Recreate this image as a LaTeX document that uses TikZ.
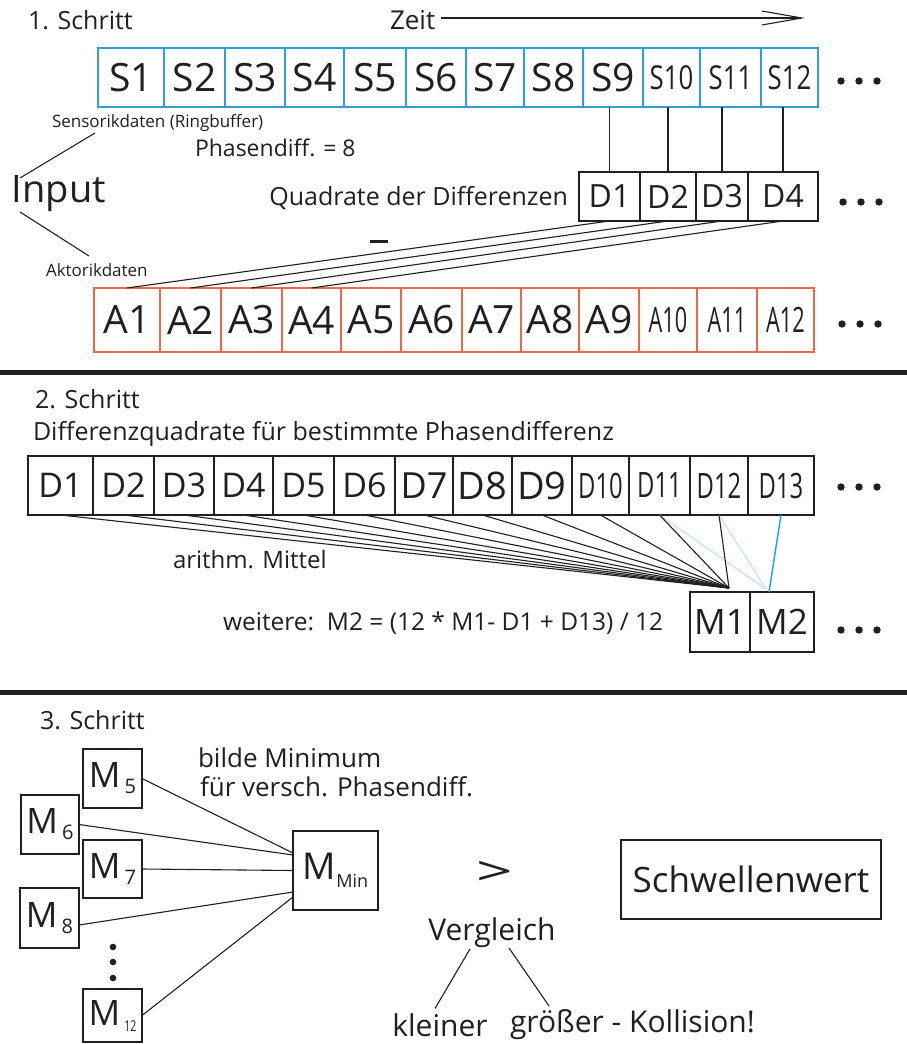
\documentclass[tikz,border=0pt]{standalone}
\usepackage{fontspec}
\setmainfont{Open Sans}
\usetikzlibrary{arrows.meta,calc}
\definecolor{ink}{RGB}{35,31,32}
\definecolor{sblue}{RGB}{45,160,218}
\definecolor{aorange}{RGB}{240,105,65}
\definecolor{lblue}{RGB}{190,228,246}
\definecolor{mblue}{RGB}{20,165,225}
\newcommand\fs[1]{\fontsize{#1}{#1}\selectfont}
\newcommand\cnd[3]{\scalebox{#1}[1]{\fs{#2}#3}}
\newcommand\Msub[2]{\fs{35}M\hspace{4pt}\raisebox{-6pt}{\fs{#2}#1}}
\newcommand\dotrow[2]{\foreach \xx in {0,18,36}{\fill[ink] ({#1+\xx},#2) circle (3.7pt);}}
\begin{document}
\begin{tikzpicture}[x=1pt,y=-1pt,
  every node/.style={text=ink,inner sep=0pt,outer sep=0pt},
  lbl/.style={font={\fs{25}}},
  lin/.style={draw=ink,line width=1.1pt},
  scell/.style={draw=sblue,line width=1.3pt,minimum height=59pt},
  acell/.style={draw=aorange,line width=1.3pt,minimum height=64pt},
  dcell/.style={draw=ink,line width=1.2pt},
  sepline/.style={draw=ink,line width=5pt},
]
\useasboundingbox[fill=white] (0,0) rectangle (907,1044);

% ---------------- Step 1 ----------------
\node[lbl,anchor=west] (t1) at (28,20) {1. Schritt};
\node[anchor=west,font={\fs{26}}] (zeit) at (390,20) {Zeit};
\coordinate (tz) at (805,18);
\draw[lin,-{Straight Barb[length=40pt,width=14pt,line width=1.1pt]}] ([xshift=6pt]zeit.east |- tz) -- (tz);

\foreach \n/\l/\r/\txt in {S1/98/164/{\fs{39}S1},S2/164/225/{\fs{39}S2},S3/225/285/{\fs{39}S3},
  S4/285/344/{\fs{39}S4},S5/344/406/{\fs{39}S5},S6/406/466/{\fs{39}S6},S7/466/524/{\fs{39}S7},
  S8/524/583/{\fs{39}S8},S9/583/643/{\fs{39}S9},S10/643/700/{\cnd{0.78}{33}{S10}},
  S11/700/761/{\cnd{0.78}{33}{S11}},S12/761/818/{\cnd{0.78}{33}{S12}}}
  {\node[scell,minimum width=\r pt-\l pt] (\n) at ({(\l+\r)/2},77.5) {\txt};}
\dotrow{841}{81}

\node[anchor=west,font={\fs{17}}] (sens) at (52,123) {Sensorikdaten (Ringbuffer)};
\node[anchor=west,font={\fs{23}}] (phd) at (195,148) {Phasendiff. = 8};
\node[anchor=west,font={\fs{38}}] (inp) at (12,193) {Input};
\node[anchor=west,font={\fs{17}}] (akt) at (46,270) {Aktorikdaten};
\draw[lin] ([xshift=8pt,yshift=15pt]inp.west) -- ([xshift=43pt,yshift=-10pt]sens.west);
\draw[lin] ([xshift=8pt,yshift=-19pt]inp.west) -- ([xshift=43pt,yshift=14pt]akt.west);

\node[lbl,anchor=east] (qdd) at (568,198) {Quadrate der Differenzen};
\foreach \n/\l/\r/\txt in {D1/579/640/D1,D2/640/696/D2,D3/696/748/D3,D4/748/818/D4}
  {\node[dcell,minimum width=\r pt-\l pt,minimum height=49pt,font={\fs{32}}] (q\n) at ({(\l+\r)/2},196.5) {\txt};}
\dotrow{843}{202}
\foreach \i in {1,2,3,4}{\pgfmathtruncatemacro\s{\i+8}
  \draw[lin] (qD\i.north) -- (qD\i.north |- S\s.south);}

\draw[ink,line width=3pt] (370,241) -- (388,241);

\foreach \n/\l/\r/\txt in {A1/94/160/{\fs{39}A1},A2/160/221/{\fs{39}A2},A3/221/282/{\fs{39}A3},
  A4/282/341/{\fs{39}A4},A5/341/401/{\fs{39}A5},A6/401/462/{\fs{39}A6},A7/462/521/{\fs{39}A7},
  A8/521/579/{\fs{39}A8},A9/579/639/{\fs{39}A9},A10/639/697/{\cnd{0.62}{35}{A10}},
  A11/697/757/{\cnd{0.62}{35}{A11}},A12/757/814/{\cnd{0.62}{35}{A12}}}
  {\node[acell,minimum width=\r pt-\l pt] (\n) at ({(\l+\r)/2},320) {\txt};}
\dotrow{842}{324}
\foreach \i in {1,2,3,4}{\draw[lin] (qD\i.south) -- (A\i.north);}

\coordinate (s1l) at (0,372); \coordinate (s1r) at (907,372);
\draw[sepline] (s1l) -- (s1r);

% ---------------- Step 2 ----------------
\node[lbl,anchor=west] (t2) at (35,399) {2. Schritt};
\node[lbl,anchor=west] (dq) at (33,434) {Differenzquadrate für bestimmte Phasendifferenz};
\foreach \n/\l/\r/\txt in {E1/28/93/{\fs{34}D1},E2/93/154/{\fs{34}D2},E3/154/214/{\fs{34}D3},
  E4/214/273/{\fs{34}D4},E5/273/334/{\fs{34}D5},E6/334/395/{\fs{34}D6},E7/395/453/{\fs{36}D7},
  E8/453/512/{\fs{38}D8},E9/512/572/{\fs{38}D9},E10/572/629/{\cnd{0.68}{35}{D10}},
  E11/629/690/{\cnd{0.68}{35}{D11}},E12/690/748/{\cnd{0.68}{35}{D12}},E13/748/814/{\cnd{0.68}{35}{D13}}}
  {\node[dcell,minimum width=\r pt-\l pt,minimum height=59pt] (\n) at ({(\l+\r)/2},485.5) {\txt};}
\dotrow{841}{487}

\node[dcell,minimum width=60pt,minimum height=60pt,font={\fs{35}}] (M1) at (720,622) {M1};
\node[dcell,minimum width=64pt,minimum height=60pt,font={\fs{35}}] (M2) at (782,622) {M2};
\dotrow{841}{630}
\coordinate (c1) at (729,588);
\coordinate (c2) at (766,589);
\coordinate (c3) at (769,592);
\draw[lblue,line width=1.1pt] (E11.south) -- (c2);
\draw[lblue,line width=1.1pt] (E12.south) -- (c2);
\foreach \i in {1,...,12}{\draw[lin] (E\i.south) -- (c1);}
\draw[mblue,line width=1.4pt] (E13.south) -- (c3);

\node[anchor=west,font={\fs{24}}] (am) at (173,560) {arithm. Mittel};
\node[anchor=west,font={\fs{24.5}}] (wt) at (223,623) {weitere:\ \ M2 = (12 * M1- D1 + D13) / 12};

\coordinate (s2l) at (0,692); \coordinate (s2r) at (907,692);
\draw[sepline] (s2l) -- (s2r);

% ---------------- Step 3 ----------------
\node[lbl,anchor=west] (t3) at (40,720) {3. Schritt};
\node[anchor=west,font={\fs{26}}] (bm) at (198,758) {bilde Minimum};
\node[anchor=west,font={\fs{26}}] (fv) at (200,787) {für versch. Phasendiff.};

\node[dcell,minimum width=59pt,minimum height=59pt] (M5) at (112.5,778.5) {\Msub{5}{20}};
\node[dcell,minimum width=58pt,minimum height=59pt] (M6) at (50,824.5) {\Msub{6}{20}};
\node[dcell,minimum width=59pt,minimum height=58pt] (M7) at (112.5,869) {\Msub{7}{20}};
\node[dcell,minimum width=59pt,minimum height=60pt] (M8) at (49.5,918) {\Msub{8}{20}};
\node[dcell,minimum width=59pt,minimum height=53pt] (M12) at (112.5,1015.5) {\Msub{\cnd{0.7}{15}{12}}{15}};
\foreach \yy in {947,962,978}{\fill[ink] (113,\yy) circle (3.3pt);}
\node[dcell,minimum width=85pt,minimum height=79pt] (MMin) at (335.5,870.5)
  {\fs{37}M\raisebox{-8pt}{\fs{18}Min}};
\draw[lin] (M5.east) -- ([yshift=17.5pt]MMin.west);
\draw[lin] (M6.east) -- ([yshift=15.5pt]MMin.west);
\draw[lin] (M7.east) -- ([yshift=0pt]MMin.west);
\draw[lin] ([yshift=-7pt]M8.east) -- ([yshift=-21.5pt]MMin.west);
\draw[lin] (M12.east) -- ([yshift=-26.5pt]MMin.west);

\node[font={\fs{40}}] (gt) at (495,873) {\scalebox{1.6}[1]{>}};
\node[dcell,minimum width=260pt,minimum height=79pt,font={\fs{35}}] (sw) at (751,879.5) {Schwellenwert};

\node[font={\fs{30}}] (verg) at (492,933) {Vergleich};
\node[font={\fs{30}}] (kl) at (440,1025) {kleiner};
\node[font={\fs{30}},anchor=west] (gr) at (510,1025) {größer - Kollision!};
\draw[lin] ([xshift=-22pt,yshift=-1pt]verg.south) -- ([xshift=-5pt,yshift=5pt]kl.north);
\draw[lin] ([xshift=17pt,yshift=0pt]verg.south) -- ([xshift=39pt,yshift=4pt]gr.north west);
\end{tikzpicture}
\end{document}
